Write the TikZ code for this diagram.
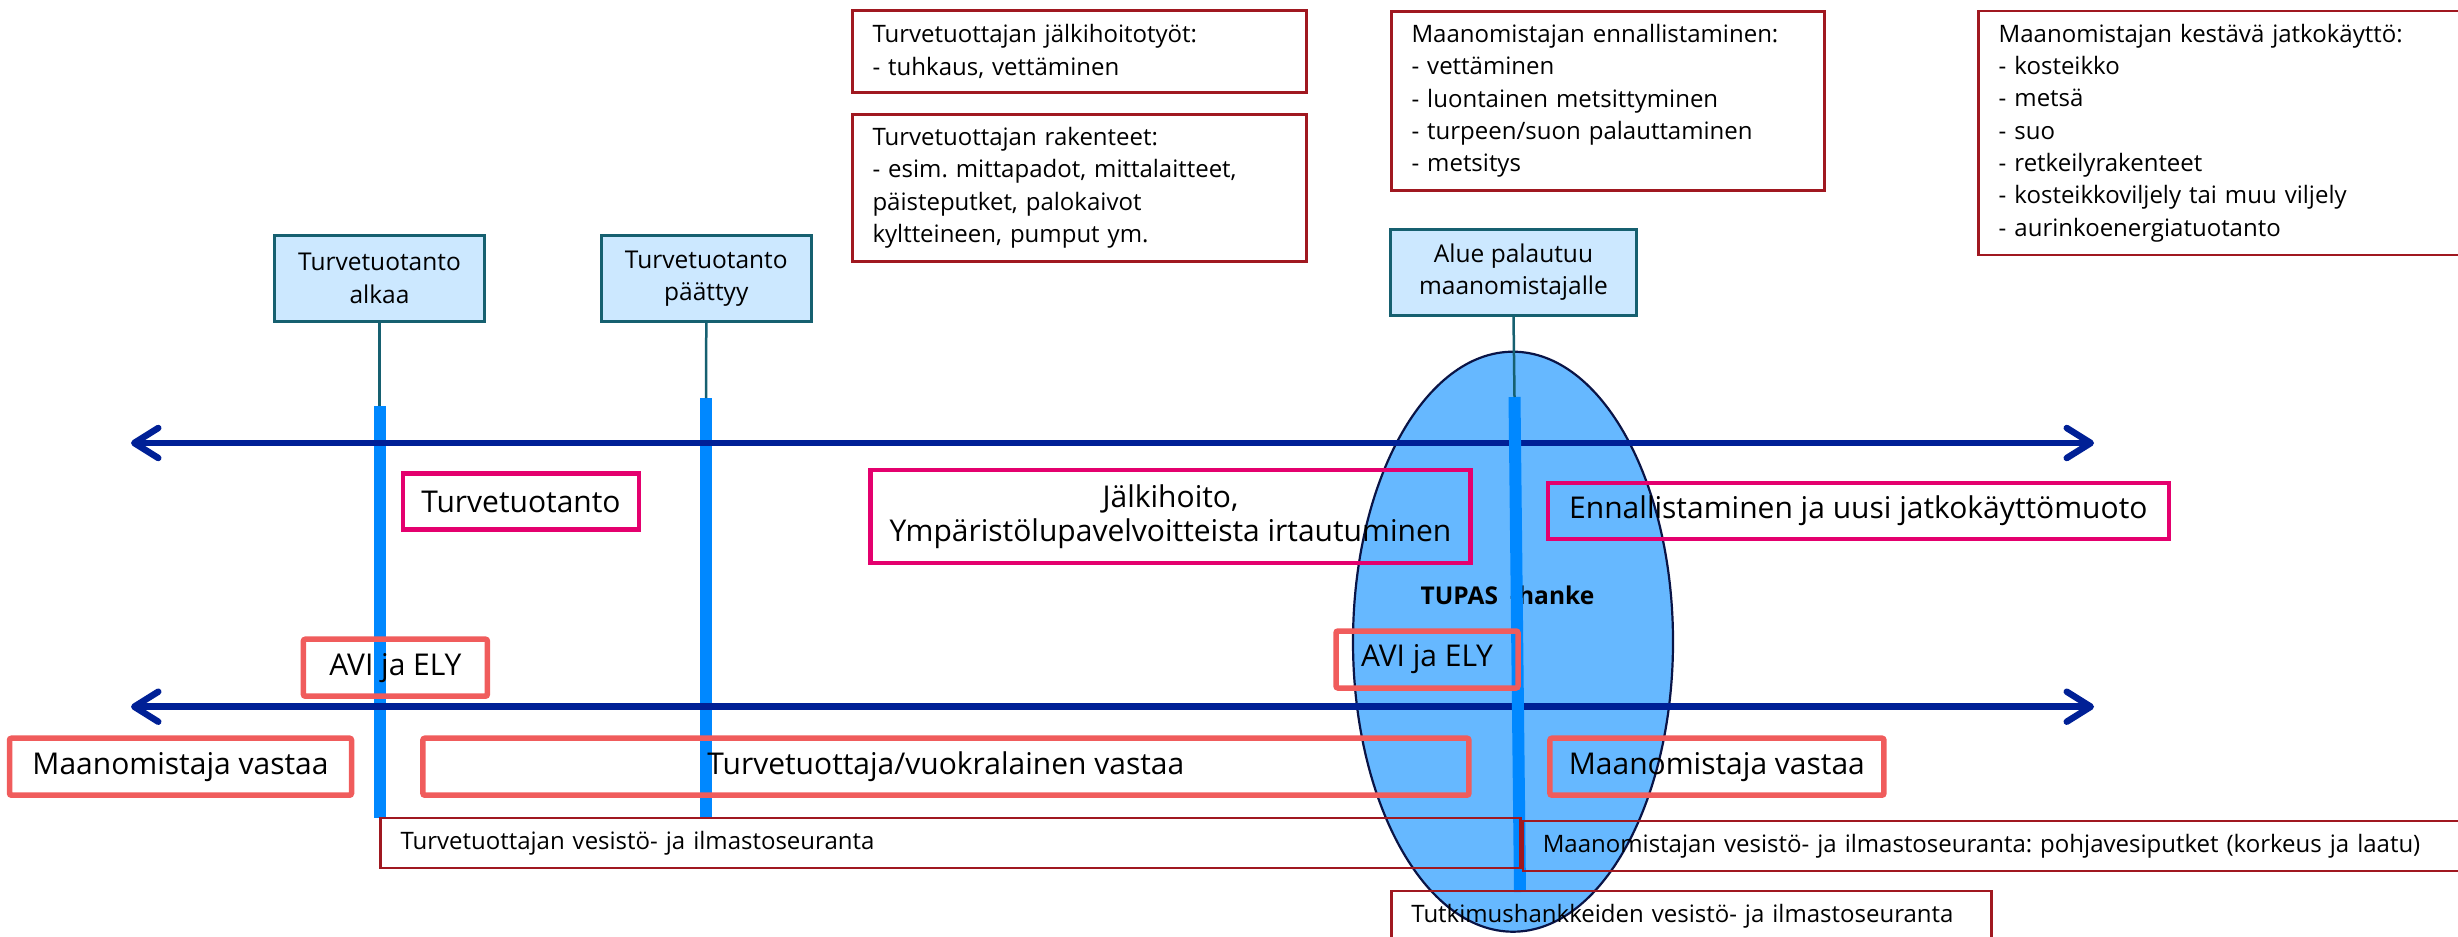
\documentclass[tikz,border=0pt]{standalone}
\usepackage{fontspec}
\setmainfont{Open Sans}
\usetikzlibrary{arrows.meta,shapes.geometric}
\definecolor{navyc}{RGB}{0,32,150}
\definecolor{barc}{RGB}{0,136,255}
\definecolor{tealc}{RGB}{22,96,112}
\definecolor{boxblue}{RGB}{204,232,255}
\definecolor{pinkc}{RGB}{228,0,110}
\definecolor{salc}{RGB}{240,92,92}
\definecolor{darkredc}{RGB}{160,24,32}
\definecolor{ellfill}{RGB}{102,184,255}
\definecolor{elldraw}{RGB}{10,20,70}
\newcommand\fsm{\fontsize{24}{32.3}\selectfont}
\newcommand\fevt{\fontsize{24.5}{32.5}\selectfont}
\newcommand\fbig{\fontsize{30}{34}\selectfont}
\newcommand\ftup{\fontsize{24.5}{28}\selectfont\bfseries}
\frenchspacing
\begin{document}
\begin{tikzpicture}[x=1pt,y=-1pt,
  evtbox/.style={draw=tealc, line width=3pt, fill=boxblue, align=center, font=\fevt, inner sep=0pt, minimum height=86pt},
  pinkbox/.style={draw=pinkc, line width=4.5pt, align=center, font=\fbig, inner sep=0pt, minimum height=56pt},
  salbox/.style={draw=salc, line width=5.5pt, rounded corners=2pt, align=center, font=\fbig, inner sep=0pt, minimum height=57pt},
  redbox/.style={draw=darkredc, line width=2.5pt, align=left, font=\fsm, inner xsep=20pt, inner ysep=0pt},
  barline/.style={draw=barc, line width=12pt},
  tealline/.style={draw=tealc, line width=2.5pt},
  timeline/.style={draw=navyc, line width=6.5pt, {Straight Barb[length=24pt,width=30pt,round]}-{Straight Barb[length=24pt,width=30pt,round]}},
  ]
\useasboundingbox (0,0) rectangle (2458,937);

% ellipse (TUPAS project)
\node[ellipse, draw=elldraw, fill=ellfill, line width=2.2pt, minimum width=320pt, minimum height=580pt, inner sep=0pt] (tupas) at (1513,641.7) {};
\node[font=\ftup, anchor=west, inner sep=0pt] (tupaslbl) at (1420.5,595) {TUPAS\hspace{0.5em}-hanke};

% event boxes
\node[evtbox, minimum width=210pt] (b1) at (379.5,278.5) {Turvetuotanto\\alkaa};
\node[evtbox, minimum width=210pt] (b2) at (706.3,278.5) {Turvetuotanto\\päättyy};
\node[evtbox, minimum width=246pt] (b3) at (1513.5,272) {Alue palautuu\\maanomistajalle};

% bar coordinates
\coordinate (bar1t) at (379.5,406); \coordinate (bar1b) at (379.5,818);
\coordinate (bar2t) at (706,398);   \coordinate (bar2b) at (706,818);
\coordinate (bar3t) at (1514.5,397); \coordinate (bar3b) at (1520,892);
\coordinate (t1l) at (131,443);   \coordinate (t1r) at (2094,443);
\coordinate (t2l) at (131,706.7); \coordinate (t2r) at (2094,706.7);

\draw[barline] (bar1t) -- (bar1b);
\draw[barline] (bar2t) -- (bar2b);
\draw[timeline] (t1l) -- (t1r);
\draw[timeline] (t2l) -- (t2r);
\draw[barline] (bar3t) -- (bar3b);

\draw[tealline] (b1.south) -- (bar1t);
\draw[tealline] (b2.south) -- (bar2t);
\draw[tealline] (b3.south) -- (bar3t);

% top info boxes
\node[redbox, minimum width=454pt, text width=414pt, minimum height=82pt] (r1) at (1079.5,51.3)
  {Turvetuottajan jälkihoitotyöt:\\- tuhkaus, vettäminen};
\node[redbox, minimum width=454pt, text width=414pt, minimum height=147pt] (r2) at (1079.5,187.8)
  {Turvetuottajan rakenteet:\\- esim. mittapadot, mittalaitteet,\\päisteputket, palokaivot\\kyltteineen, pumput ym.};
\node[redbox, minimum width=433pt, text width=393pt, minimum height=179pt] (r3) at (1608,100.8)
  {Maanomistajan ennallistaminen:\\- vettäminen\\- luontainen metsittyminen\\- turpeen/suon palauttaminen\\- metsitys};
\node[redbox, minimum width=510pt, text width=470pt, minimum height=244pt] (r4) at (2233.7,133)
  {Maanomistajan kestävä jatkokäyttö:\\- kosteikko\\- metsä\\- suo\\- retkeilyrakenteet\\- kosteikkoviljely tai muu viljely\\- aurinkoenergiatuotanto};

% phase boxes
\node[pinkbox, minimum width=236pt] (p1) at (521,501.7) {Turvetuotanto};
\node[pinkbox, minimum width=600pt, minimum height=93pt] (p2) at (1170.5,516.4) {Jälkihoito,\\Ympäristölupavelvoitteista irtautuminen};
\node[pinkbox, minimum width=621pt] (p3) at (1858.3,511) {Ennallistaminen ja uusi jatkokäyttömuoto};

% authority / responsibility boxes
\node[salbox, minimum width=184pt] (s1) at (395.4,667.7) {AVI ja ELY};
\node[salbox, minimum width=182pt] (s2) at (1427,659.5) {AVI ja ELY};
\node[salbox, minimum width=342pt] (s3) at (180.5,766.7) {Maanomistaja vastaa};
\node[salbox, minimum width=1046pt] (s4) at (945.9,766.7) {Turvetuottaja/vuokralainen vastaa};
\node[salbox, minimum width=334pt] (s5) at (1716.9,766.7) {Maanomistaja vastaa};

% monitoring boxes
\node[redbox, minimum width=1140pt, text width=1100pt, minimum height=50pt] (r5) at (950.5,843)
  {Turvetuottajan vesistö- ja ilmastoseuranta};
\node[redbox, minimum width=966pt, text width=926pt, minimum height=50pt] (r6) at (2005.8,846)
  {Maanomistajan vesistö- ja ilmastoseuranta: pohjavesiputket (korkeus ja laatu)};
\node[redbox, minimum width=600pt, text width=560pt, minimum height=51pt] (r7) at (1691.4,916.7)
  {Tutkimushankkeiden vesistö- ja ilmastoseuranta};
\end{tikzpicture}
\end{document}
